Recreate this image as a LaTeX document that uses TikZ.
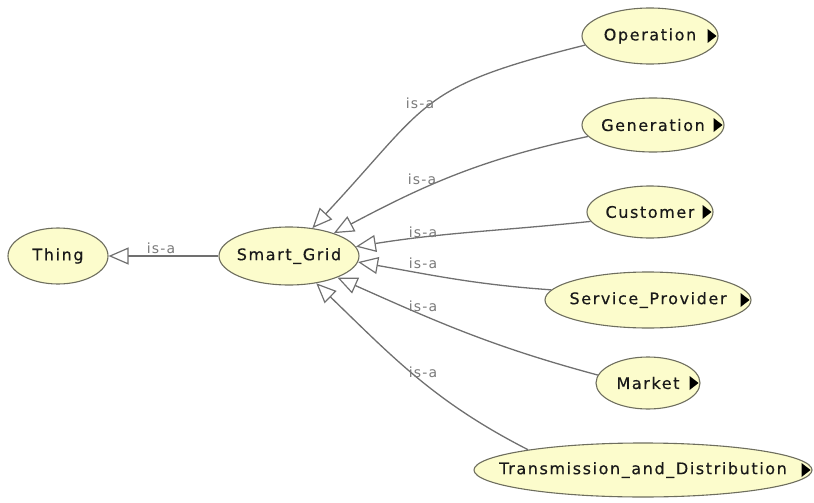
\documentclass[tikz,border=0pt]{standalone}
\usepackage{fontspec}
\usetikzlibrary{shapes.geometric,arrows.meta}
\newfontfamily\classfont{DejaVu Sans}[LetterSpace=10,FakeBold=0.4]
\newfontfamily\relfont{DejaVu Sans}[LetterSpace=8]
\definecolor{classfill}{HTML}{FCFCCC}
\definecolor{classline}{HTML}{6E6E5E}
\definecolor{edgegray}{HTML}{707070}
\definecolor{labelgray}{HTML}{7A7A7A}
% class names are set in zero-width boxes so the ellipse keeps its given size
\newcommand{\clsname}[1]{\makebox[0pt]{#1}}
\tikzset{
  cls/.style={ellipse, draw=classline, fill=classfill, line width=1.1pt,
    inner sep=0pt, font=\classfont\fontsize{16}{18}\selectfont, text=black!90},
  isa/.style={draw=edgegray, line width=1.3pt,
    -{Triangle[open, length=20pt, width=17pt, line width=1.2pt]}},
  lbl/.style={font=\relfont\fontsize{14}{16}\selectfont, text=labelgray, inner sep=0pt},
  more/.style={fill=black}
}
\begin{document}
\begin{tikzpicture}[x=1pt,y=1pt]
\useasboundingbox (0,0) rectangle (814,-503);

% class nodes
\node[cls, minimum width=100pt, minimum height=56pt] (thing) at (58,-256) {\clsname{Thing}};
\node[cls, minimum width=140pt, minimum height=58pt] (sg) at (289,-256) {\clsname{Smart\_Grid}};
\node[cls, minimum width=136pt, minimum height=56pt] (op) at (650,-36) {\clsname{Operation}};
\node[cls, minimum width=142pt, minimum height=54pt] (gen) at (653,-125) {\clsname{Generation}};
\node[cls, minimum width=126pt, minimum height=52pt] (cust) at (650,-212) {\clsname{Customer}};
\node[cls, minimum width=206pt, minimum height=56pt] (sp) at (648,-300) {\clsname{Service\_Provider}};
\node[cls, minimum width=104pt, minimum height=52pt] (mkt) at (648,-383) {\clsname{Market}};
\node[cls, minimum width=338pt, minimum height=54pt] (td) at (643,-470) {\clsname{Transmission\_and\_Distribution}};

% expand markers
\foreach \n in {op,gen,cust,sp,mkt,td}{
  \fill[more] ([xshift=-2pt]\n.east) -- ++(-9,7) -- ++(0,-14) -- cycle;
}

% is-a links
\draw[isa] (sg.west) -- (thing.east);
\draw[isa] (op.188) to[out=194,in=47,looseness=1.35] (sg.50);
\draw[isa] (gen.190) to[out=192,in=28] (sg.27);
\draw[isa] (cust.189) to[out=186,in=9] (sg.8);
\draw[isa] (sp.174) to[out=176,in=-10] (sg.-5);
\draw[isa] (mkt.171) to[out=165,in=-24] (sg.-24);
\draw[isa] (td.170) to[out=153,in=-44] (sg.-45);

% link labels
\node[lbl] (l0) at (161,-248) {is-a};
\node[lbl] (l1) at (420,-103) {is-a};
\node[lbl] (l2) at (422,-179) {is-a};
\node[lbl] (l3) at (423,-232) {is-a};
\node[lbl] (l4) at (423,-263) {is-a};
\node[lbl] (l5) at (423,-306) {is-a};
\node[lbl] (l6) at (423,-372) {is-a};
\end{tikzpicture}
\end{document}
